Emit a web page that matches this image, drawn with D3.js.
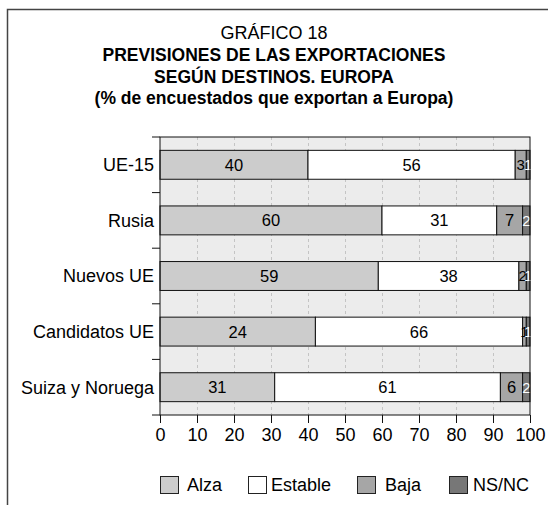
<!DOCTYPE html>
<html>
<head>
<meta charset="utf-8">
<script src="https://cdn.jsdelivr.net/npm/d3@7"></script>
<style>
  body { margin: 0; background: #fff; }
  text { font-family: "Liberation Sans", Arial, sans-serif; }
</style>
</head>
<body>
<script>
// categories (top to bottom)
let destinos = ["UE-15", "Rusia", "Nuevos UE", "Candidatos UE", "Suiza y Noruega"];
let series = ["Alza", "Estable", "Baja", "NS/NC"];

// bar lengths
let alza    = [40, 60, 59, 42, 31];
let estable = [56, 31, 38, 56, 61];
let baja    = [3, 7, 2, 1, 6];
let nsnc    = [1, 2, 1, 1, 2];

// numbers printed inside the bars (Candidatos UE prints 24 / 66 in the original)
let alzaLbl    = [40, 60, 59, 24, 31];
let estableLbl = [56, 31, 38, 66, 61];
let bajaLbl    = [3, 7, 2, 1, 6];
let nsncLbl    = [1, 2, 1, 1, 2];

let xTicks = [0, 10, 20, 30, 40, 50, 60, 70, 80, 90, 100];
let titleLines = ["GRÁFICO 18", "PREVISIONES DE LAS EXPORTACIONES", "SEGÚN DESTINOS. EUROPA", "(% de encuestados que exportan a Europa)"];

let colors = ["#cccccc", "#ffffff", "#a6a6a6", "#777777"];
let labelColors = ["#000", "#000", "#000", "#fff"];

function chart(){
  let width = 548;
  let height = 505;

  let svg = d3.select("body").append("svg")
    .attr("width", width).attr("height", height);

  // outer frame (runs off the right and bottom edges)
  svg.append("rect")
    .attr("x", 7.5).attr("y", 9.5)
    .attr("width", 600).attr("height", 600)
    .style("fill", "none").style("stroke", "#444").style("stroke-width", 1.5);

  // titles
  let titleY = [39, 61, 83, 104];
  svg.selectAll("text.title")
    .data(titleLines)
    .enter()
    .append("text")
      .attr("class", "title")
      .attr("x", 274)
      .attr("y", function(d, i){ return titleY[i]; })
      .attr("text-anchor", "middle")
      .style("font-size", function(d, i){ return i == 0 ? "18px" : "17.5px"; })
      .style("font-weight", function(d, i){ return i == 0 ? "normal" : "bold"; })
      .text(function(d){ return d; });

  let plot = {left: 160, right: 530, top: 137, bottom: 415};

  let xScale = d3.scaleLinear().domain([0, 100]).range([plot.left, plot.right]);
  let yScale = d3.scaleBand().domain(destinos).range([plot.top, plot.bottom]).padding(0);
  let bw = yScale.bandwidth();
  let barH = bw * 0.52;

  // plot background
  svg.append("rect")
    .attr("x", plot.left).attr("y", plot.top)
    .attr("width", plot.right - plot.left).attr("height", plot.bottom - plot.top)
    .style("fill", "#ececec");

  // dashed grid
  svg.selectAll("line.grid")
    .data(xTicks.slice(1, -1))
    .enter()
    .append("line")
      .attr("x1", function(d){ return Math.round(xScale(d)) + 0.5; })
      .attr("x2", function(d){ return Math.round(xScale(d)) + 0.5; })
      .attr("y1", plot.top).attr("y2", plot.bottom)
      .style("stroke", "#c4c4c4")
      .style("stroke-dasharray", "3,3");

  // stack the series
  let rows = destinos.map(function(d, i){
    return {destino: d, values: [alza[i], estable[i], baja[i], nsnc[i]],
            labels: [alzaLbl[i], estableLbl[i], bajaLbl[i], nsncLbl[i]]};
  });
  let segs = [];
  rows.forEach(function(r){
    let acc = 0;
    r.values.forEach(function(v, k){
      segs.push({destino: r.destino, k: k, x0: acc, x1: acc + v, label: r.labels[k]});
      acc += v;
    });
  });

  svg.selectAll("rect.bar")
    .data(segs)
    .enter()
    .append("rect")
      .attr("class", "bar")
      .attr("x", function(d){ return xScale(d.x0); })
      .attr("y", function(d){ return yScale(d.destino) + (bw - barH) / 2; })
      .attr("width", function(d){ return xScale(d.x1) - xScale(d.x0); })
      .attr("height", barH)
      .style("fill", function(d){ return colors[d.k]; })
      .style("stroke", "#111")
      .style("stroke-width", 1);

  svg.selectAll("text.val")
    .data(segs)
    .enter()
    .append("text")
      .attr("class", "val")
      .attr("x", function(d){ return (xScale(d.x0) + xScale(d.x1)) / 2; })
      .attr("y", function(d){ return yScale(d.destino) + bw / 2; })
      .attr("text-anchor", "middle")
      .attr("dy", "0.36em")
      .style("font-size", function(d){ return (d.x1 - d.x0) < 4 ? "15px" : "16.5px"; })
      .style("fill", function(d){ return labelColors[d.k]; })
      .text(function(d){ return d.label; });

  // plot frame
  svg.append("rect")
    .attr("x", plot.left).attr("y", plot.top)
    .attr("width", plot.right - plot.left).attr("height", plot.bottom - plot.top)
    .style("fill", "none").style("stroke", "#111");

  // x axis
  let xAxis = d3.axisBottom(xScale).tickValues(xTicks).tickSize(8).tickPadding(5);
  let gx = svg.append("g")
    .attr("transform", "translate(0," + plot.bottom + ")")
    .call(xAxis);
  gx.select(".domain").remove();
  gx.selectAll("line").style("stroke", "#111");
  gx.selectAll("text").style("font-size", "18px").style("font-family", "Liberation Sans, Arial, sans-serif").style("fill", "#000");

  // y axis: ticks at band edges, labels at band centres
  let edges = destinos.map(function(d){ return yScale(d); }).concat([plot.bottom]);
  svg.selectAll("line.ytick")
    .data(edges)
    .enter()
    .append("line")
      .attr("x1", plot.left - 8).attr("x2", plot.left)
      .attr("y1", function(d){ return d; }).attr("y2", function(d){ return d; })
      .style("stroke", "#111");
  svg.selectAll("text.ylab")
    .data(destinos)
    .enter()
    .append("text")
      .attr("x", plot.left - 6)
      .attr("y", function(d){ return yScale(d) + bw / 2; })
      .attr("dy", "0.36em")
      .attr("text-anchor", "end")
      .style("font-size", "18px")
      .text(function(d){ return d; });

  // legend
  let legX = [160, 248, 357, 449];
  let leg = svg.selectAll("g.leg")
    .data(series)
    .enter()
    .append("g")
      .attr("transform", function(d, i){ return "translate(" + legX[i] + ",476)"; });
  leg.append("rect")
    .attr("x", 0.5).attr("y", 0.5)
    .attr("width", 18).attr("height", 17)
    .style("fill", function(d, i){ return colors[i]; })
    .style("stroke", "#222");
  leg.append("text")
    .attr("x", function(d, i){ return i == 0 ? 27 : (i == 1 ? 23 : (i == 2 ? 28 : 24)); })
    .attr("y", 9)
    .attr("dy", "0.36em")
    .style("font-size", "18px")
    .text(function(d){ return d; });
}

chart();
</script>
</body>
</html>
